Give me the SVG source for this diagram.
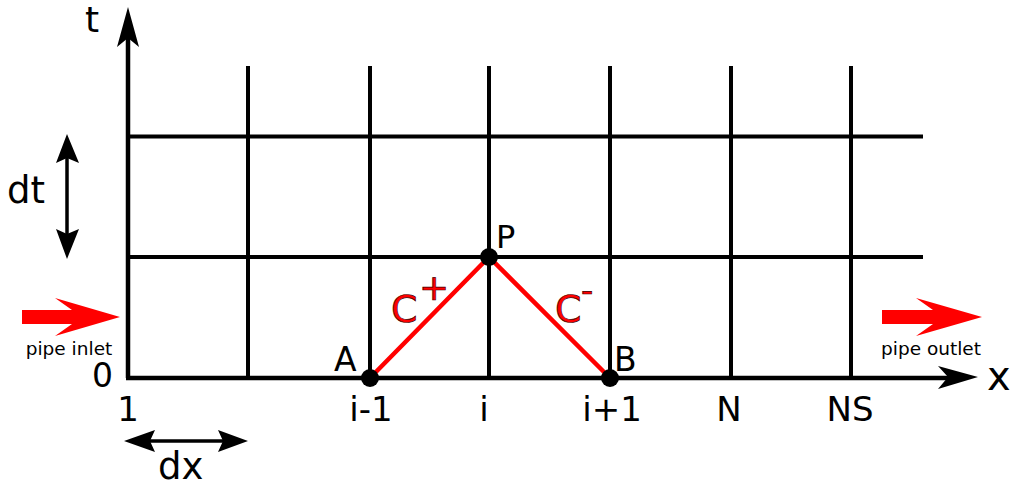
<svg xmlns="http://www.w3.org/2000/svg" width="1013" height="488" viewBox="0 0 1013 488">
<style>
text{font-family:"DejaVu Sans","Verdana",sans-serif;fill:#000}
.grid{stroke:#000;stroke-width:4;fill:none}
.axis{stroke:#000;stroke-width:4.5;fill:none}
.red{stroke:#ff0000;stroke-width:4.5;fill:none}
.lbl{font-size:34px;text-anchor:middle}
.c{font-size:38px;fill:#ff0000;stroke:#400000;stroke-width:0.7}
.small{font-size:18.5px;text-anchor:middle}
.dim{stroke:#000;stroke-width:3.5}
</style>
<rect width="1013" height="488" fill="#fff"/>
<g id="grid">
<path class="grid" d="M248,66V378M370,66V378M489,66V378M610,66V378M731,66V378M851,66V378"/>
<path class="grid" d="M128,136.5H923M128,257H923"/>
</g>
<g id="axes">
<path class="axis" d="M128,378V30M126,378H955"/>
<path d="M128,7L139,47L128,38L117,47Z" fill="#000"/>
<path d="M978,377L938,366L948,377L938,389Z" fill="#000"/>
<text x="85" y="32" style="font-size:36px">t</text>
<text x="987" y="390" style="font-size:40px">x</text>
<text x="92" y="387" style="font-size:33px">0</text>
</g>
<g id="connectors">
<path class="red" d="M370,378L489,257L610,378"/>
</g>
<g id="node-A">
<circle cx="370" cy="378" r="9" fill="#000"/>
<text x="334" y="371" style="font-size:33px">A</text>
</g>
<g id="node-P">
<circle cx="489" cy="257" r="9" fill="#000"/>
<text x="496" y="248" style="font-size:32px">P</text>
</g>
<g id="node-B">
<circle cx="610" cy="378" r="9" fill="#000"/>
<text x="614" y="371" style="font-size:33px">B</text>
</g>
<g id="labels-c">
<text class="c" x="391" y="322">C</text>
<text class="c" x="419" y="300" style="font-size:36px">+</text>
<text class="c" x="555" y="322">C</text>
<text class="c" x="581" y="302" style="font-size:34px">-</text>
</g>
<g id="ticks">
<text class="lbl" x="128" y="421">1</text>
<text class="lbl" x="371" y="421">i-1</text>
<text class="lbl" x="484" y="421">i</text>
<text class="lbl" x="612" y="421">i+1</text>
<text class="lbl" x="729" y="421">N</text>
<text class="lbl" x="850" y="421">NS</text>
</g>
<g id="dt">
<path class="dim" d="M67,155V238"/>
<path d="M67,134L79,163L67,158L56,163Z" fill="#000"/>
<path d="M67,259L79,229L67,234L56,229Z" fill="#000"/>
<text x="7" y="203" style="font-size:37px">dt</text>
</g>
<g id="dx">
<path class="dim" d="M145,441H228"/>
<path d="M124,441L155,430L150,441L155,452Z" fill="#000"/>
<path d="M248,441L218,430L223,441L218,452Z" fill="#000"/>
<text x="158" y="479" style="font-size:37px">dx</text>
</g>
<g id="inlet">
<path d="M22,310L72,310L55,298L120,317L55,336L72,324L22,324Z" fill="#ff0000"/>
<text class="small" x="69" y="355">pipe inlet</text>
</g>
<g id="outlet">
<path d="M882,310L933,310L916,298L982,317L916,336L933,324L882,324Z" fill="#ff0000"/>
<text class="small" x="931" y="355">pipe outlet</text>
</g>
</svg>
